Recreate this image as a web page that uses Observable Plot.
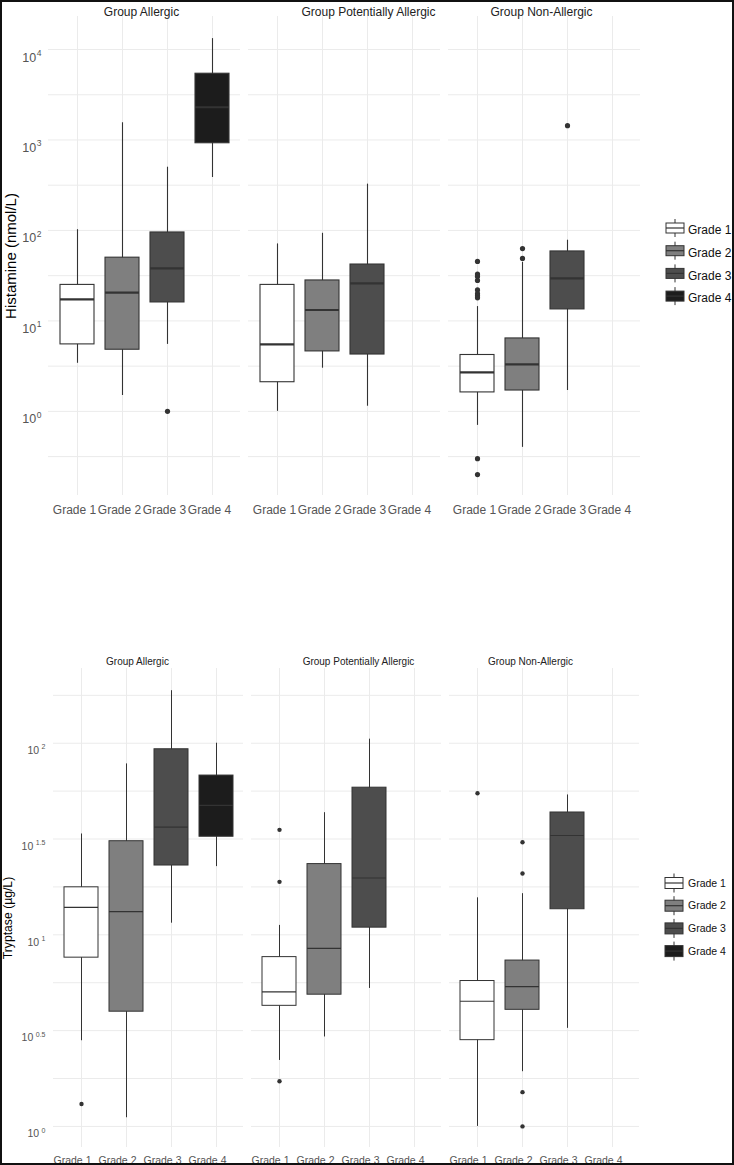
<!DOCTYPE html>
<html><head><meta charset="utf-8">
<script src="https://cdn.jsdelivr.net/npm/d3@7"></script>
<script src="https://cdn.jsdelivr.net/npm/@observablehq/plot@0.6"></script>
<style>
body{margin:0;background:#fff;font-family:"Liberation Sans",Arial,Helvetica,sans-serif;}
#wrap{position:relative;width:734px;height:1165px;overflow:hidden;background:#fff;}
#border{position:absolute;left:0;top:0;width:734px;height:1165px;box-sizing:border-box;border:2px solid #111;pointer-events:none;}
.chart{position:absolute;left:0;}
.ytitle{position:absolute;white-space:nowrap;transform:translate(-50%,-50%) rotate(-90deg);color:#000;line-height:1;}
.legend{position:absolute;}
</style></head><body>
<div id="wrap">
 <div id="top" class="chart" style="top:0"></div>
 <div id="bottom" class="chart" style="top:640px"></div>
 <div class="ytitle" style="left:10px;top:256px;font-size:15px">Histamine (nmol/L)</div>
 <div class="ytitle" style="left:8px;top:918px;font-size:12.2px">Tryptase (µg/L)</div>
 <div id="leg1" class="legend" style="left:660px;top:210px"></div>
 <div id="leg2" class="legend" style="left:659px;top:865px"></div>
 <div id="border"></div>
</div>
<script>
// ---------- categories ----------
const groups = ["Group Allergic", "Group Potentially Allergic", "Group Non-Allergic"];
const grades = ["Grade 1", "Grade 2", "Grade 3", "Grade 4"];
const gradeFills = ["#ffffff", "#7f7f7f", "#4d4d4d", "#1c1c1c"];

// ---------- Histamine (nmol/L) box statistics ----------
const histGroup = ["Group Allergic","Group Allergic","Group Allergic","Group Allergic",
  "Group Potentially Allergic","Group Potentially Allergic","Group Potentially Allergic",
  "Group Non-Allergic","Group Non-Allergic","Group Non-Allergic"];
const histGrade = ["Grade 1","Grade 2","Grade 3","Grade 4","Grade 1","Grade 2","Grade 3","Grade 1","Grade 2","Grade 3"];
const histLow  = [3.4, 1.5, 5.5, 385, 1.0, 3.0, 1.14, 0.70, 0.40, 1.7];
const histQ1   = [5.5, 4.8, 16, 920, 2.1, 4.6, 4.25, 1.62, 1.7, 13.4];
const histMed  = [17.3, 20.5, 38, 2300, 5.5, 13.2, 26, 2.7, 3.3, 29.5];
const histQ3   = [25, 50, 95, 5400, 25, 28, 42, 4.2, 6.4, 58.6];
const histHigh = [102, 1550, 500, 13200, 71, 93, 325, 14.4, 44.5, 78];
// outliers
const histOutGroup = ["Group Allergic",
  "Group Non-Allergic","Group Non-Allergic","Group Non-Allergic","Group Non-Allergic","Group Non-Allergic",
  "Group Non-Allergic","Group Non-Allergic","Group Non-Allergic","Group Non-Allergic","Group Non-Allergic",
  "Group Non-Allergic","Group Non-Allergic","Group Non-Allergic"];
const histOutGrade = ["Grade 3",
  "Grade 1","Grade 1","Grade 1","Grade 1","Grade 1","Grade 1","Grade 1","Grade 1","Grade 1","Grade 1",
  "Grade 2","Grade 2","Grade 3"];
const histOutValue = [1.0, 45.5, 33, 31, 28, 22, 20, 19, 18, 0.30, 0.20, 63, 49, 1440];
const histTickExps = [0, 1, 2, 3, 4];
const histGridExps = [-0.5, 0, 0.5, 1, 1.5, 2, 2.5, 3, 3.5, 4];
const histDomainExps = [-0.93, 4.365];

// ---------- Tryptase (µg/L) box statistics ----------
const tryGroup = histGroup;
const tryGrade = histGrade;
const tryLow  = [2.8, 1.11, 11.5, 22.7, 2.21, 2.93, 5.25, 1.0, 1.93, 3.25];
const tryQ1   = [7.6, 3.97, 23, 32.5, 4.26, 4.87, 10.9, 2.82, 4.06, 13.6];
const tryMed  = [13.9, 13.2, 36.5, 47.4, 5.04, 8.5, 19.8, 4.5, 5.37, 33];
const tryQ3   = [17.7, 30.8, 93, 67.8, 7.65, 23.4, 58.6, 5.74, 7.34, 43.5];
const tryHigh = [33.6, 78, 188, 100, 11.2, 43.4, 105, 15.6, 16.4, 53.7];
const tryOutGroup = ["Group Allergic",
  "Group Potentially Allergic","Group Potentially Allergic","Group Potentially Allergic",
  "Group Non-Allergic","Group Non-Allergic","Group Non-Allergic","Group Non-Allergic","Group Non-Allergic"];
const tryOutGrade = ["Grade 1","Grade 1","Grade 1","Grade 1","Grade 1","Grade 2","Grade 2","Grade 2","Grade 2"];
const tryOutValue = [1.31, 35.3, 18.9, 1.72, 54.8, 30.4, 20.9, 1.51, 1.0];
const tryTickExps = [0, 0.5, 1, 1.5, 2];
const tryGridExps = [0, 0.25, 0.5, 0.75, 1, 1.25, 1.5, 1.75, 2, 2.25];
const tryDomainExps = [-0.11, 2.39];

// ---------- helpers ----------
function table(g, gr, lo, q1, me, q3, hi) {
  return g.map((d, i) => ({group: d, grade: gr[i], low: lo[i], q1: q1[i], med: me[i], q3: q3[i], high: hi[i]}));
}
function outs(g, gr, v) { return g.map((d, i) => ({group: d, grade: gr[i], value: v[i]})); }

const NS = "http://www.w3.org/2000/svg";
function superscript(svg, baseSize, supSize, gap, raise, shift) {
  svg.querySelectorAll('g[aria-label="y-axis tick label"] text').forEach(t => {
    const [b, e] = t.textContent.split("^");
    t.textContent = "";
    t.setAttribute("font-size", baseSize);
    t.setAttribute("dy", (0.32 * baseSize + shift) + "px");
    const a = document.createElementNS(NS, "tspan"); a.textContent = b;
    const s = document.createElementNS(NS, "tspan"); s.textContent = e;
    s.setAttribute("font-size", supSize); s.setAttribute("dy", (-raise) + "px"); s.setAttribute("dx", gap + "px");
    t.append(a, s);
  });
}

function chart(o) {
  const stats = o.stats;
  const titles = groups.map((g, i) => Plot.text([g], {
    fx: d => d, text: d => d, frameAnchor: "top", dy: o.titleDy, dx: o.titleDx[i],
    fontSize: o.titleSize, fill: "#222"
  }));
  const svg = Plot.plot({
    width: o.width, height: o.height,
    marginLeft: o.ml, marginRight: o.mr, marginTop: o.mt, marginBottom: o.mb,
    style: {fontFamily: '"Liberation Sans", Arial, Helvetica, sans-serif', background: "transparent"},
    fx: {domain: groups, paddingInner: o.fxPad, paddingOuter: 0, axis: null, label: null},
    x: {domain: grades, paddingInner: 0.25, paddingOuter: 0.225, label: null},
    y: {type: "log", domain: o.domainExps.map(e => Math.pow(10, e)), label: null},
    color: {domain: grades, range: gradeFills},
    marks: [
      Plot.ruleY(o.gridExps.map(e => Math.pow(10, e)), {stroke: "#ebebeb", strokeWidth: 1}),
      Plot.ruleX(grades, {x: d => d, stroke: "#ebebeb", strokeWidth: 1}),
      Plot.ruleX(stats, {fx: "group", x: "grade", y1: "low", y2: "high", stroke: "#333", strokeWidth: o.sw}),
      Plot.barY(stats, {fx: "group", x: "grade", y1: "q1", y2: "q3", fill: "grade", stroke: "#333", strokeWidth: o.sw}),
      Plot.tickY(stats, {fx: "group", x: "grade", y: "med", stroke: "#333", strokeWidth: o.medW}),
      Plot.dot(o.outliers, {fx: "group", x: "grade", y: "value", r: o.dotR, fill: "#333", stroke: null}),
      ...titles,
      Plot.axisX({tickSize: 0, tickPadding: o.xPad, fontSize: o.xFont, color: "#555", dx: o.xDx, label: null}),
      Plot.axisY({ticks: o.tickExps.map(e => Math.pow(10, e)), tickFormat: v => "10^" + (+Math.log10(v).toFixed(2)),
        tickSize: 0, tickPadding: o.yPad, color: "#555", label: null})
    ]
  });
  superscript(svg, o.yBase, o.ySup, o.yGap, o.yRaise, o.yShift);
  return svg;
}

document.getElementById("top").append(chart({
  stats: table(histGroup, histGrade, histLow, histQ1, histMed, histQ3, histHigh),
  outliers: outs(histOutGroup, histOutGrade, histOutValue),
  tickExps: histTickExps, gridExps: histGridExps, domainExps: histDomainExps,
  width: 650, height: 530, ml: 47, mr: 9, mt: 16, mb: 35, fxPad: 0.04,
  titleDy: -9, titleDx: [-3, 24, -3], titleSize: 12,
  sw: 1.1, medW: 2.2, dotR: 2.6,
  xPad: 10, xFont: 12, xDx: -3,
  yPad: 7, yBase: 12.5, ySup: 8.5, yGap: 0.5, yRaise: 5.5, yShift: 4
}));

document.getElementById("bottom").append(chart({
  stats: table(tryGroup, tryGrade, tryLow, tryQ1, tryMed, tryQ3, tryHigh),
  outliers: outs(tryOutGroup, tryOutGrade, tryOutValue),
  tickExps: tryTickExps, gridExps: tryGridExps, domainExps: tryDomainExps,
  width: 650, height: 525, ml: 53, mr: 10, mt: 28, mb: 18, fxPad: 0.04,
  titleDy: -11, titleDx: [-11, 12, -14], titleSize: 10,
  sw: 1, medW: 1.2, dotR: 2.2,
  xPad: 9, xFont: 10.5, xDx: -9,
  yPad: 8, yBase: 10.5, ySup: 7, yGap: 2.5, yRaise: 4.5, yShift: 4
}));

// ---------- legends ----------
function legend(el, rowH, firstCy, keyW, rectH, whisk, textX, fontSize, textDy) {
  const svg = d3.create("svg").attr("width", 74).attr("height", firstCy + rowH * 4)
    .style("overflow", "visible").style("font-family", '"Liberation Sans", Arial, sans-serif');
  grades.forEach((g, i) => {
    const cy = firstCy + i * rowH;
    const k = svg.append("g");
    k.append("line").attr("x1", 6 + keyW / 2).attr("x2", 6 + keyW / 2)
      .attr("y1", cy - rectH / 2 - whisk).attr("y2", cy + rectH / 2 + whisk).attr("stroke", "#333").attr("stroke-width", 1);
    k.append("rect").attr("x", 6).attr("y", cy - rectH / 2).attr("width", keyW).attr("height", rectH)
      .attr("fill", gradeFills[i]).attr("stroke", "#333").attr("stroke-width", 1);
    k.append("line").attr("x1", 6).attr("x2", 6 + keyW).attr("y1", cy).attr("y2", cy)
      .attr("stroke", "#333").attr("stroke-width", 1.2);
    svg.append("text").attr("x", textX).attr("y", cy + textDy).attr("dy", "0.35em")
      .attr("font-size", fontSize).attr("fill", "#111").text(g);
  });
  el.append(svg.node());
}
legend(document.getElementById("leg1"), 22.7, 18, 18, 10, 4, 28, 12, 2);
legend(document.getElementById("leg2"), 22.7, 18, 18, 11, 4, 29, 10.5, 0);
</script>
</body></html>
